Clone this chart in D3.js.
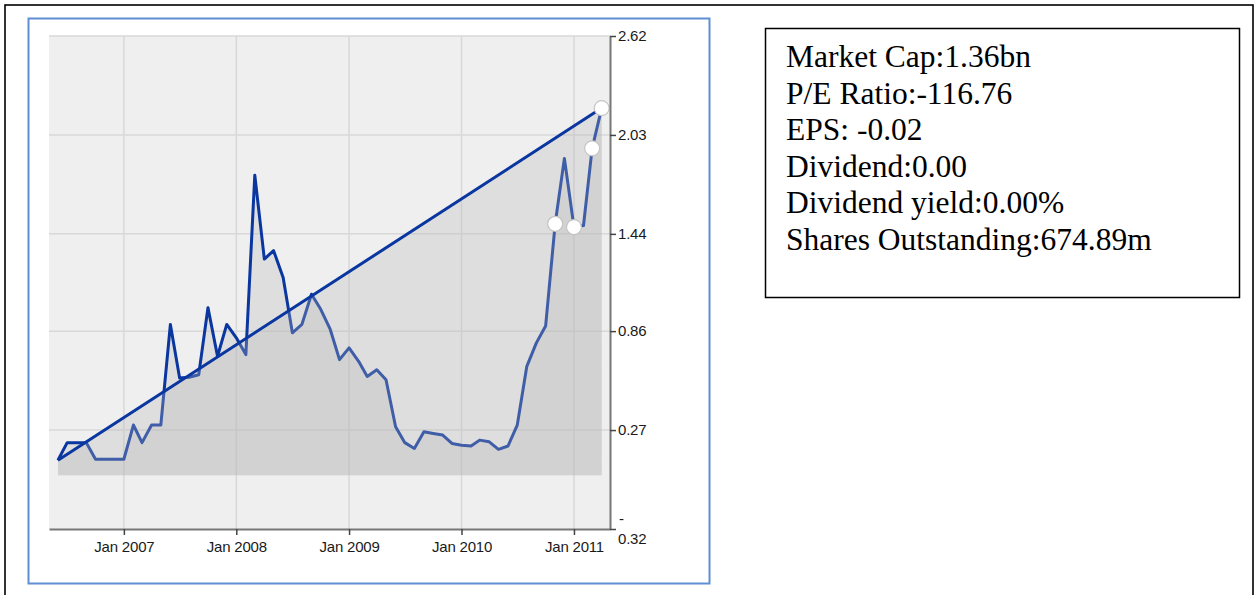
<!DOCTYPE html>
<html>
<head>
<meta charset="utf-8">
<script src="https://cdn.jsdelivr.net/npm/d3@7"></script>
<style>
  body { margin: 0; background: #fff; }
  svg { display: block; }
</style>
</head>
<body>
<div id="chart"></div>
<script>
// monthly closing price, Jun 2006 .. Apr 2011
var firstMonth = new Date(2006, 5, 1),
    lastMonth = new Date(2011, 3, 1);

var prices = [
  0.09, 0.195, 0.195, 0.195, 0.096, 0.096, 0.096,
  0.096, 0.30, 0.195, 0.30, 0.30, 0.90, 0.58, 0.585, 0.60, 1.00, 0.71, 0.90,
  0.82, 0.72, 1.79, 1.29, 1.34, 1.18, 0.85, 0.90, 1.08, 0.99, 0.87, 0.69,
  0.76, 0.68, 0.59, 0.63, 0.57, 0.29, 0.195, 0.16, 0.26, 0.25, 0.24, 0.19,
  0.18, 0.175, 0.21, 0.20, 0.155, 0.175, 0.30, 0.65, 0.79, 0.89, 1.50, 1.89,
  1.48, 1.49, 1.95, 2.19
];

// straight trend line from first to last close
var trendDates = [new Date(2006, 5, 1), new Date(2011, 3, 1)];
var trendValues = [0.09, 2.19];

// highlighted points
var markerDates = [new Date(2010, 10, 1), new Date(2011, 0, 1), new Date(2011, 2, 1), new Date(2011, 3, 1)];

var yTicks = [-0.32, 0.27, 0.86, 1.44, 2.03, 2.62];
var xTicks = [new Date(2007, 0, 1), new Date(2008, 0, 1), new Date(2009, 0, 1), new Date(2010, 0, 1), new Date(2011, 0, 1)];

var stats = [
  "Market Cap:1.36bn",
  "P/E Ratio:-116.76",
  "EPS: -0.02",
  "Dividend:0.00",
  "Dividend yield:0.00%",
  "Shares Outstanding:674.89m"
];

const width = 1255, height = 595;

var months = d3.timeMonth.range(firstMonth, d3.timeMonth.offset(lastMonth, 1));
var series = months.map(function (d, i) { return { date: d, value: prices[i] }; });
var trend = trendDates.map(function (d, i) { return { date: d, value: trendValues[i] }; });
var markers = series.filter(function (d) {
  return markerDates.some(function (m) { return +m == +d.date; });
});

const svg = d3.select("#chart").append("svg")
  .attr("width", width)
  .attr("height", height);

// outer page border
svg.append("rect")
  .attr("x", 5).attr("y", 5)
  .attr("width", 1248).attr("height", 600)
  .attr("fill", "none")
  .attr("stroke", "#000")
  .attr("stroke-width", 1.6);

// chart frame
svg.append("rect")
  .attr("x", 28.5).attr("y", 18.5)
  .attr("width", 681).attr("height", 565)
  .attr("fill", "#fff")
  .attr("stroke", "#5f8fd2")
  .attr("stroke-width", 2);

var plot = { left: 49, right: 610, top: 36, bottom: 529 };

var x = d3.scaleTime()
  .domain([new Date(2006, 4, 3), new Date(2011, 3, 28)])
  .range([plot.left, plot.right]);

var y = d3.scaleLinear()
  .domain([-0.32, 2.62])
  .range([plot.bottom, plot.top]);

svg.append("rect")
  .attr("x", plot.left).attr("y", plot.top)
  .attr("width", plot.right - plot.left)
  .attr("height", plot.bottom - plot.top)
  .attr("fill", "#efefef");

// grid
svg.append("g").selectAll("line")
  .data(xTicks)
  .enter().append("line")
  .attr("x1", function (d) { return x(d); })
  .attr("x2", function (d) { return x(d); })
  .attr("y1", plot.top).attr("y2", plot.bottom)
  .attr("stroke", "#d8d8d8")
  .attr("stroke-width", 1.5);

svg.append("g").selectAll("line")
  .data(yTicks.slice(1))
  .enter().append("line")
  .attr("x1", plot.left).attr("x2", plot.right)
  .attr("y1", function (d) { return y(d); })
  .attr("y2", function (d) { return y(d); })
  .attr("stroke", "#d8d8d8")
  .attr("stroke-width", 1.5);

var overlay = "rgba(184,184,184,0.31)";

var area = d3.area()
  .x(function (d) { return x(d.date); })
  .y0(y(0))
  .y1(function (d) { return y(d.value); });

var line = d3.line()
  .x(function (d) { return x(d.date); })
  .y(function (d) { return y(d.value); });

svg.append("path")
  .datum(series)
  .attr("d", area)
  .attr("fill", overlay);

svg.append("path")
  .datum(series)
  .attr("d", line)
  .attr("fill", "none")
  .attr("stroke", "#0a36a0")
  .attr("stroke-width", 3)
  .attr("stroke-linejoin", "round");

// trend area goes over the price line, which washes it out below the trend
svg.append("path")
  .datum(trend)
  .attr("d", area)
  .attr("fill", overlay);

svg.append("path")
  .datum(trend)
  .attr("d", line)
  .attr("fill", "none")
  .attr("stroke", "#0a36a0")
  .attr("stroke-width", 3);

svg.append("g").selectAll("circle")
  .data(markers)
  .enter().append("circle")
  .attr("cx", function (d) { return x(d.date); })
  .attr("cy", function (d) { return y(d.value); })
  .attr("r", 7.5)
  .attr("fill", "#fff")
  .attr("stroke", "#c4c4c4")
  .attr("stroke-width", 1.2);

// axes
var xAxis = svg.append("g")
  .attr("transform", "translate(0," + plot.bottom + ")")
  .call(d3.axisBottom(x).tickValues(xTicks).tickSize(6).tickSizeOuter(0)
    .tickFormat(d3.timeFormat("Jan %Y")));

var yAxis = svg.append("g")
  .attr("transform", "translate(" + plot.right + ",0)")
  .call(d3.axisRight(y).tickValues(yTicks).tickSize(6).tickSizeOuter(0)
    .tickFormat(function (d) { return d.toFixed(2); }));

[xAxis, yAxis].forEach(function (g) {
  g.select(".domain").attr("stroke", "#777").attr("stroke-width", 2);
  g.selectAll(".tick line").attr("stroke", "#444").attr("stroke-width", 1.5);
  g.selectAll("text")
    .attr("fill", "#1a1a1a")
    .style("font-family", "'Liberation Sans', Arial, sans-serif")
    .style("font-size", "15px")
    .style("letter-spacing", "-0.2px");
});

xAxis.selectAll("text").attr("dy", "1em").attr("y", 8);
yAxis.selectAll("text").attr("x", 8);

// the negative bottom label wraps onto two lines
yAxis.selectAll(".tick text")
  .filter(function (d) { return d < 0; })
  .text(null)
  .each(function (d) {
    var t = d3.select(this);
    t.append("tspan").attr("x", 9).attr("dy", "-0.35em").text("-");
    t.append("tspan").attr("x", 8).attr("dy", "1.3em").text(Math.abs(d).toFixed(2));
  });

// stats box
svg.append("rect")
  .attr("x", 765.5).attr("y", 28.5)
  .attr("width", 474).attr("height", 269)
  .attr("fill", "none")
  .attr("stroke", "#000")
  .attr("stroke-width", 1.5);

svg.append("g").selectAll("text")
  .data(stats)
  .enter().append("text")
  .attr("x", 786)
  .attr("y", function (d, i) { return 67 + i * 36.5; })
  .style("font-family", "'Liberation Serif', 'Times New Roman', serif")
  .style("font-size", "31.5px")
  .attr("fill", "#000")
  .text(function (d) { return d; });
</script>
</body>
</html>
